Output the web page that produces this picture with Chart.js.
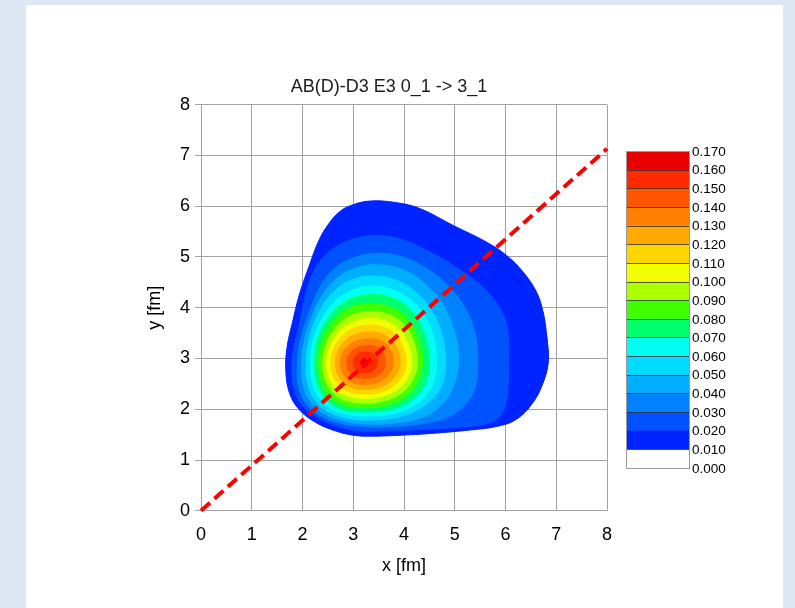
<!DOCTYPE html>
<html>
<head>
<meta charset="utf-8">
<title>AB(D)-D3 E3 0_1 -> 3_1</title>
<script src="https://cdn.jsdelivr.net/npm/chart.js@4.4.1/dist/chart.umd.min.js"></script>
<style>
  html, body { margin: 0; padding: 0; width: 795px; height: 608px; overflow: hidden; background: #dde8f4; }
  #panel { position: absolute; left: 26px; top: 5px; width: 757px; height: 610px; background: #ffffff; }
  #c { position: absolute; left: 0; top: 0; }
</style>
</head>
<body>
<div id="panel"><canvas id="c" width="728" height="603"></canvas></div>
<script>
// Axis ticks (fm)
const axisTicks = [0, 1, 2, 3, 4, 5, 6, 7, 8];

// Contour levels shown in the colour bar
const levels = [0.000, 0.010, 0.020, 0.030, 0.040, 0.050, 0.060, 0.070, 0.080,
                0.090, 0.100, 0.110, 0.120, 0.130, 0.140, 0.150, 0.160, 0.170];

// Fill colour of each band [levels[i], levels[i+1])
const bandColors = ['#ffffff', '#0024ff', '#0052ff', '#0082ff', '#00aeff', '#00dcff',
                    '#00fff0', '#00ff6c', '#40ff00', '#aaff00', '#f2ff00', '#ffd500',
                    '#ffaa00', '#ff8000', '#ff5500', '#ff2a00', '#e60000'];

// Iso-lines of the density, [x, y] in fm
const iso010 = [[6.84,2.93],[6.81,3.46],[6.74,3.92],[6.61,4.31],[6.35,4.70],[6.02,5.03],[5.63,5.29],
  [4.97,5.62],[4.32,5.95],[3.84,6.07],[3.32,6.10],[2.92,6.00],[2.72,5.88],[2.53,5.67],[2.33,5.34],
  [2.13,4.82],[1.93,4.23],[1.80,3.70],[1.70,3.25],[1.67,2.79],[1.74,2.33],[1.93,2.00],[2.26,1.74],
  [2.66,1.57],[2.99,1.49],[3.32,1.47],[3.97,1.49],[4.63,1.53],[5.29,1.59],[5.82,1.66],[6.21,1.80],
  [6.54,2.13],[6.74,2.52]];
const iso020 = [[6.06,2.95],[6.06,3.39],[5.96,3.85],[5.63,4.33],[5.05,4.78],[4.50,5.10],[4.00,5.33],
  [3.50,5.42],[3.10,5.38],[2.73,5.24],[2.46,5.04],[2.26,4.78],[2.12,4.45],[2.02,4.07],[1.92,3.60],
  [1.82,3.15],[1.79,2.75],[1.85,2.35],[2.02,2.05],[2.33,1.82],[2.70,1.66],[3.10,1.58],[3.60,1.57],
  [4.30,1.60],[5.00,1.64],[5.55,1.70],[5.85,1.82],[6.00,2.10],[6.05,2.50]];
const iso030 = [[5.45,2.95],[5.40,3.50],[5.20,4.00],[4.85,4.45],[4.40,4.80],[3.90,5.02],[3.45,5.07],
  [3.00,4.98],[2.62,4.76],[2.35,4.42],[2.15,3.95],[1.98,3.45],[1.90,2.95],[1.92,2.45],[2.08,2.10],
  [2.38,1.86],[2.75,1.72],[3.20,1.66],[3.80,1.66],[4.40,1.72],[4.90,1.86],[5.25,2.15],[5.42,2.50]];
const iso040 = [[5.07,2.92],[5.02,3.42],[4.83,3.95],[4.52,4.37],[4.08,4.70],[3.55,4.84],[3.08,4.79],
  [2.68,4.58],[2.38,4.22],[2.17,3.78],[2.03,3.32],[1.98,2.90],[2.02,2.45],[2.17,2.13],[2.45,1.90],
  [2.82,1.77],[3.25,1.71],[3.80,1.73],[4.30,1.82],[4.70,2.05],[4.97,2.45]];
const iso050 = [[4.82,2.92],[4.76,3.42],[4.58,3.88],[4.26,4.28],[3.82,4.55],[3.35,4.62],[2.93,4.53],
  [2.57,4.27],[2.31,3.88],[2.14,3.42],[2.07,2.92],[2.11,2.48],[2.27,2.15],[2.55,1.93],[2.90,1.82],
  [3.30,1.79],[3.80,1.83],[4.25,1.98],[4.60,2.25],[4.77,2.55]];
const iso060 = [[4.64,2.92],[4.58,3.42],[4.40,3.85],[4.10,4.18],[3.70,4.38],[3.28,4.42],[2.88,4.30],
  [2.55,4.03],[2.32,3.66],[2.19,3.27],[2.16,2.90],[2.20,2.50],[2.36,2.19],[2.62,1.98],[2.95,1.89],
  [3.30,1.87],[3.75,1.91],[4.15,2.05],[4.47,2.32],[4.60,2.60]];
const iso070 = [[4.50,2.92],[4.41,3.45],[4.16,3.92],[3.75,4.20],[3.28,4.25],[2.85,4.12],[2.50,3.78],
  [2.29,3.34],[2.24,2.90],[2.30,2.50],[2.48,2.18],[2.78,2.00],[3.20,1.95],[3.68,1.99],[4.10,2.15],
  [4.40,2.48]];
const iso080 = [[4.36,2.92],[4.28,3.40],[4.06,3.80],[3.68,4.03],[3.25,4.08],[2.86,3.96],[2.55,3.66],
  [2.37,3.28],[2.32,2.90],[2.37,2.54],[2.54,2.25],[2.82,2.08],[3.20,2.03],[3.62,2.07],[4.00,2.22],
  [4.26,2.52]];
const iso090 = [[4.26,2.92],[4.18,3.36],[3.97,3.70],[3.63,3.89],[3.25,3.92],[2.89,3.81],[2.61,3.55],
  [2.45,3.24],[2.40,2.90],[2.45,2.58],[2.60,2.33],[2.86,2.17],[3.20,2.12],[3.58,2.16],[3.92,2.30],
  [4.16,2.56]];
const iso100 = [[4.15,2.92],[4.07,3.31],[3.87,3.60],[3.57,3.76],[3.24,3.78],[2.92,3.68],[2.67,3.46],
  [2.52,3.19],[2.48,2.90],[2.52,2.62],[2.66,2.40],[2.90,2.26],[3.21,2.21],[3.55,2.25],[3.85,2.38],
  [4.06,2.60]];
const iso110 = [[4.04,2.92],[3.97,3.25],[3.79,3.51],[3.52,3.64],[3.23,3.65],[2.95,3.57],[2.73,3.38],
  [2.60,3.15],[2.56,2.90],[2.60,2.66],[2.73,2.46],[2.94,2.34],[3.22,2.30],[3.52,2.33],[3.78,2.45],
  [3.96,2.65]];
const iso120 = [[3.92,2.92],[3.86,3.20],[3.70,3.41],[3.47,3.51],[3.22,3.51],[2.98,3.45],[2.80,3.30],
  [2.68,3.10],[2.65,2.90],[2.69,2.70],[2.80,2.53],[2.98,2.42],[3.22,2.39],[3.48,2.42],[3.70,2.52],
  [3.86,2.70]];
const iso130 = [[3.79,2.92],[3.74,3.15],[3.61,3.31],[3.42,3.38],[3.22,3.38],[3.02,3.33],[2.87,3.21],
  [2.77,3.06],[2.75,2.90],[2.78,2.74],[2.88,2.60],[3.03,2.51],[3.22,2.49],[3.43,2.51],[3.61,2.60],
  [3.74,2.75]];
const iso140 = [[3.64,2.92],[3.59,3.10],[3.49,3.21],[3.36,3.25],[3.22,3.25],[3.07,3.21],[2.95,3.12],
  [2.89,3.02],[2.87,2.90],[2.90,2.78],[2.97,2.68],[3.08,2.62],[3.22,2.60],[3.38,2.62],[3.51,2.69],
  [3.60,2.79]];
const iso150 = [[3.48,2.92],[3.44,3.04],[3.35,3.11],[3.22,3.12],[3.10,3.10],[3.03,3.02],[3.00,2.92],
  [3.03,2.81],[3.10,2.74],[3.22,2.72],[3.35,2.74],[3.44,2.81]];
const iso160 = [[3.31,2.92],[3.22,3.01],[3.13,2.92],[3.22,2.83]];

// Straight cut through the distribution
const cutX = [0, 8];
const cutY = [0, 7.13];

const isolines = [
  { level: 0.01, pts: iso010 }, { level: 0.02, pts: iso020 }, { level: 0.03, pts: iso030 },
  { level: 0.04, pts: iso040 }, { level: 0.05, pts: iso050 }, { level: 0.06, pts: iso060 },
  { level: 0.07, pts: iso070 }, { level: 0.08, pts: iso080 }, { level: 0.09, pts: iso090 },
  { level: 0.10, pts: iso100 }, { level: 0.11, pts: iso110 }, { level: 0.12, pts: iso120 },
  { level: 0.13, pts: iso130 }, { level: 0.14, pts: iso140 }, { level: 0.15, pts: iso150 },
  { level: 0.16, pts: iso160 }
];

const FONT = '"Liberation Sans", Arial, Helvetica, sans-serif';

// Filled region above each level; inner levels are drawn over outer ones.
// The ring is wrapped by one point on each side so the spline closes smoothly.
const contourSets = isolines.map(({ level, pts }) => {
  const color = bandColors[Math.round(level * 100)];
  const smooth = level < 0.16;
  const ring = smooth ? [pts[pts.length - 1], ...pts, pts[0], pts[1]] : [...pts, pts[0]];
  return {
    data: ring.map(([x, y]) => ({ x, y })),
    showLine: true,
    fill: 'shape',
    backgroundColor: color,
    borderColor: color,
    borderWidth: 1,
    pointRadius: 0,
    tension: smooth ? 0.4 : 0
  };
}).reverse();

const cutSet = {
  data: cutX.map((x, i) => ({ x, y: cutY[i] })),
  showLine: true,
  fill: false,
  borderColor: '#ff0000',
  borderWidth: 4,
  borderDash: [12, 6],
  borderCapStyle: 'butt',
  pointRadius: 0,
  tension: 0,
  clip: false
};

// Colour bar drawn to the right of the plot
const colorBar = {
  id: 'colorBar',
  afterDraw(chart) {
    const { ctx, chartArea } = chart;
    const left = Math.round(chartArea.right) + 19;
    const top = Math.round(chartArea.top) + 46;
    const w = 63, h = 317;
    const n = levels.length - 1;
    const bh = h / n;
    ctx.save();
    for (let i = 0; i < n; i++) {
      ctx.fillStyle = bandColors[n - 1 - i];
      ctx.fillRect(left, top + i * bh, w, bh + 0.5);
    }
    ctx.strokeStyle = 'rgba(40,40,40,0.75)';
    ctx.lineWidth = 1;
    for (let i = 1; i < n; i++) {
      const y = Math.round(top + i * bh) + 0.5;
      ctx.beginPath();
      ctx.moveTo(left, y);
      ctx.lineTo(left + w, y);
      ctx.stroke();
    }
    ctx.strokeStyle = '#9a9a9a';
    ctx.strokeRect(left + 0.5, top + 0.5, w, h);
    ctx.fillStyle = '#000000';
    ctx.font = '13.5px ' + FONT;
    ctx.textAlign = 'left';
    ctx.textBaseline = 'middle';
    for (let k = 0; k <= n; k++) {
      ctx.fillText(levels[n - k].toFixed(3), left + w + 3, top + k * bh + 1);
    }
    ctx.restore();
  }
};

new Chart(document.getElementById('c'), {
  type: 'scatter',
  data: { datasets: [cutSet, ...contourSets] },
  options: {
    responsive: false,
    animation: false,
    devicePixelRatio: 1,
    layout: { padding: { left: 145, right: 147, top: 0, bottom: 31 } },
    plugins: {
      legend: { display: false },
      tooltip: { enabled: false },
      title: {
        display: true,
        text: 'AB(D)-D3 E3 0_1 -> 3_1',
        color: '#1a1a1a',
        font: { family: FONT, size: 18, weight: 'normal', lineHeight: 1.2 },
        padding: { top: 71, bottom: 7 }
      }
    },
    scales: {
      x: {
        type: 'linear', min: 0, max: 8, z: 1,
        afterBuildTicks(s) { s.ticks = axisTicks.map(v => ({ value: v })); },
        ticks: { color: '#000', padding: 13, font: { family: FONT, size: 18 } },
        grid: { color: '#a3a3a3', lineWidth: 1, drawTicks: false },
        border: { color: '#a3a3a3' },
        title: { display: true, text: 'x [fm]', color: '#000', font: { family: FONT, size: 18 }, padding: { top: -3, bottom: 0 } }
      },
      y: {
        type: 'linear', min: 0, max: 8, z: 1,
        afterBuildTicks(s) { s.ticks = axisTicks.map(v => ({ value: v })); },
        afterFit(s) { s.width = 30; },
        ticks: { color: '#000', padding: 5, font: { family: FONT, size: 18 } },
        grid: { color: '#a3a3a3', lineWidth: 1, drawTicks: true, tickLength: 6 },
        border: { color: '#a3a3a3' },
        title: { display: true, text: 'y [fm]', color: '#000', font: { family: FONT, size: 18 }, padding: { top: -27, bottom: 0 } }
      }
    }
  },
  plugins: [colorBar]
});
</script>
</body>
</html>
